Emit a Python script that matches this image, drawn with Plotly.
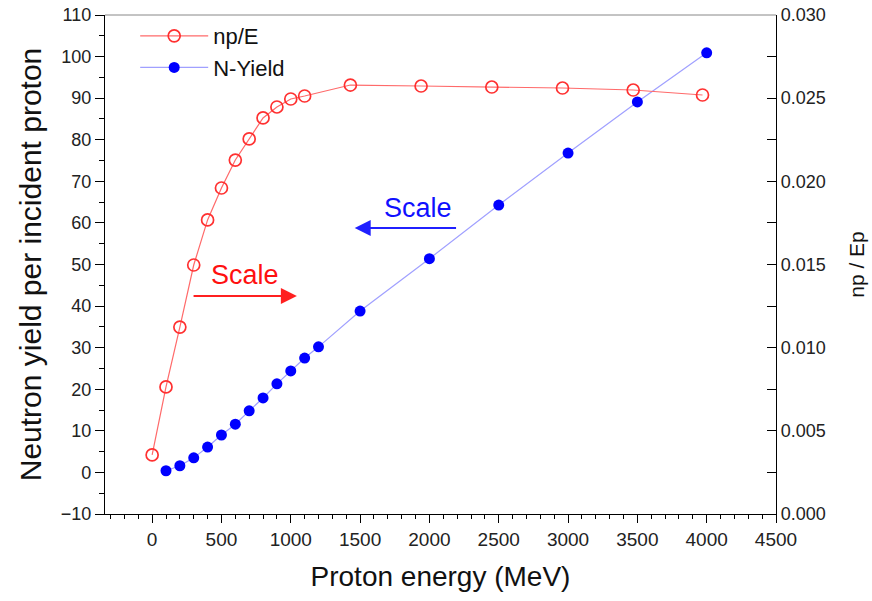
import plotly.graph_objects as go

# np/E (right axis)
npe_energy = [0, 100, 200, 300, 400, 500, 600, 700, 800, 900, 1000, 1100,
              1430, 1940, 2450, 2960, 3470, 3970]
npe_value = [0.00355, 0.00764, 0.01124, 0.01497, 0.01768, 0.01960, 0.02128,
             0.02255, 0.02381, 0.02447, 0.02495, 0.02513,
             0.02579, 0.02573, 0.02567, 0.02561, 0.02549, 0.02519]

# N-Yield (left axis)
ny_energy = [100, 200, 300, 400, 500, 600, 700, 800, 900, 1000, 1100, 1200,
             1500, 2000, 2500, 3000, 3500, 4000]
ny_value = [0.4, 1.6, 3.5, 6.1, 9.0, 11.6, 14.8, 17.9, 21.3, 24.4, 27.5, 30.2,
            38.8, 51.4, 64.3, 76.8, 89.1, 100.9]

FONT = "Arial, Liberation Sans, sans-serif"

fig = go.Figure()
fig.add_trace(go.Scatter(
    x=npe_energy, y=npe_value, name="np/E", yaxis="y2", mode="lines+markers",
    line=dict(color="#ff6a6a", width=1.2),
    marker=dict(symbol="circle-open", size=12, color="#ff3030", line=dict(width=1.7)),
))
fig.add_trace(go.Scatter(
    x=ny_energy, y=ny_value, name="N-Yield", mode="lines+markers",
    line=dict(color="#a0a0ff", width=1.2),
    marker=dict(symbol="circle", size=11, color="#0000ff"),
))

axis_common = dict(
    showgrid=False, zeroline=False, showline=True, linecolor="black", linewidth=1.2,
    tickcolor="black", tickwidth=1.2, automargin=False,
)

fig.update_layout(
    width=872, height=601,
    margin=dict(l=105, r=96, t=15, b=87),
    plot_bgcolor="white", paper_bgcolor="white",
    font=dict(family=FONT, color="#111"),
    xaxis=dict(
        range=[-340, 4500], dtick=500, tick0=0, ticks="outside", ticklen=8,
        minor=dict(dtick=100, ticks="outside", ticklen=4, tickcolor="black"),
        tickfont=dict(family=FONT, size=19, color="#222"),
        title=dict(text="Proton energy (MeV)", font=dict(family=FONT, size=28), standoff=17),
        **axis_common,
    ),
    yaxis=dict(
        range=[-10, 110], dtick=10, tick0=0, ticks="outside", ticklen=9,
        minor=dict(dtick=5, ticks="outside", ticklen=5, tickcolor="black"),
        tickfont=dict(family=FONT, size=18, color="#222"),
        title=dict(text="Neutron yield per incident proton", font=dict(family=FONT, size=30), standoff=10),
        **axis_common,
    ),
    yaxis2=dict(
        overlaying="y", side="right", anchor="x",
        range=[0, 0.030], dtick=0.005, tick0=0, tickformat=".3f",
        ticks="inside", ticklen=9,
        minor=dict(dtick=0.0025, ticks="inside", ticklen=9, tickcolor="black"),
        tickfont=dict(family=FONT, size=18, color="#222"),
        title=dict(text="np / Ep", font=dict(family=FONT, size=21), standoff=24),
        **axis_common,
    ),
    legend=dict(
        x=0.045, y=1.0, xanchor="left", yanchor="top",
        bgcolor="rgba(0,0,0,0)", font=dict(family=FONT, size=22, color="#111"),
        itemwidth=68, tracegroupgap=0,
    ),
    showlegend=True,
)

# top frame line
fig.add_shape(type="line", xref="paper", yref="paper", x0=0, x1=1, y0=1, y1=1,
              line=dict(color="#888", width=1))

# Scale annotations
fig.add_annotation(x=1044, y=42.4, ax=288, ay=42.4, xref="x", yref="y", axref="x", ayref="y",
                   showarrow=True, arrowhead=2, arrowsize=1.6, arrowwidth=2, arrowcolor="#ff2020", text="")
fig.add_annotation(x=670, y=47.5, xref="x", yref="y", text="Scale", showarrow=False,
                   font=dict(family=FONT, size=27, color="#ff1010"))
fig.add_annotation(x=1461, y=58.8, ax=2203, ay=58.8, xref="x", yref="y", axref="x", ayref="y",
                   showarrow=True, arrowhead=2, arrowsize=1.6, arrowwidth=2, arrowcolor="#2020ff", text="")
fig.add_annotation(x=1915, y=63.6, xref="x", yref="y", text="Scale", showarrow=False,
                   font=dict(family=FONT, size=27, color="#1010ff"))

fig.write_html("out.html", config={"displayModeBar": False},
               post_script="document.body.style.margin='0px';")
